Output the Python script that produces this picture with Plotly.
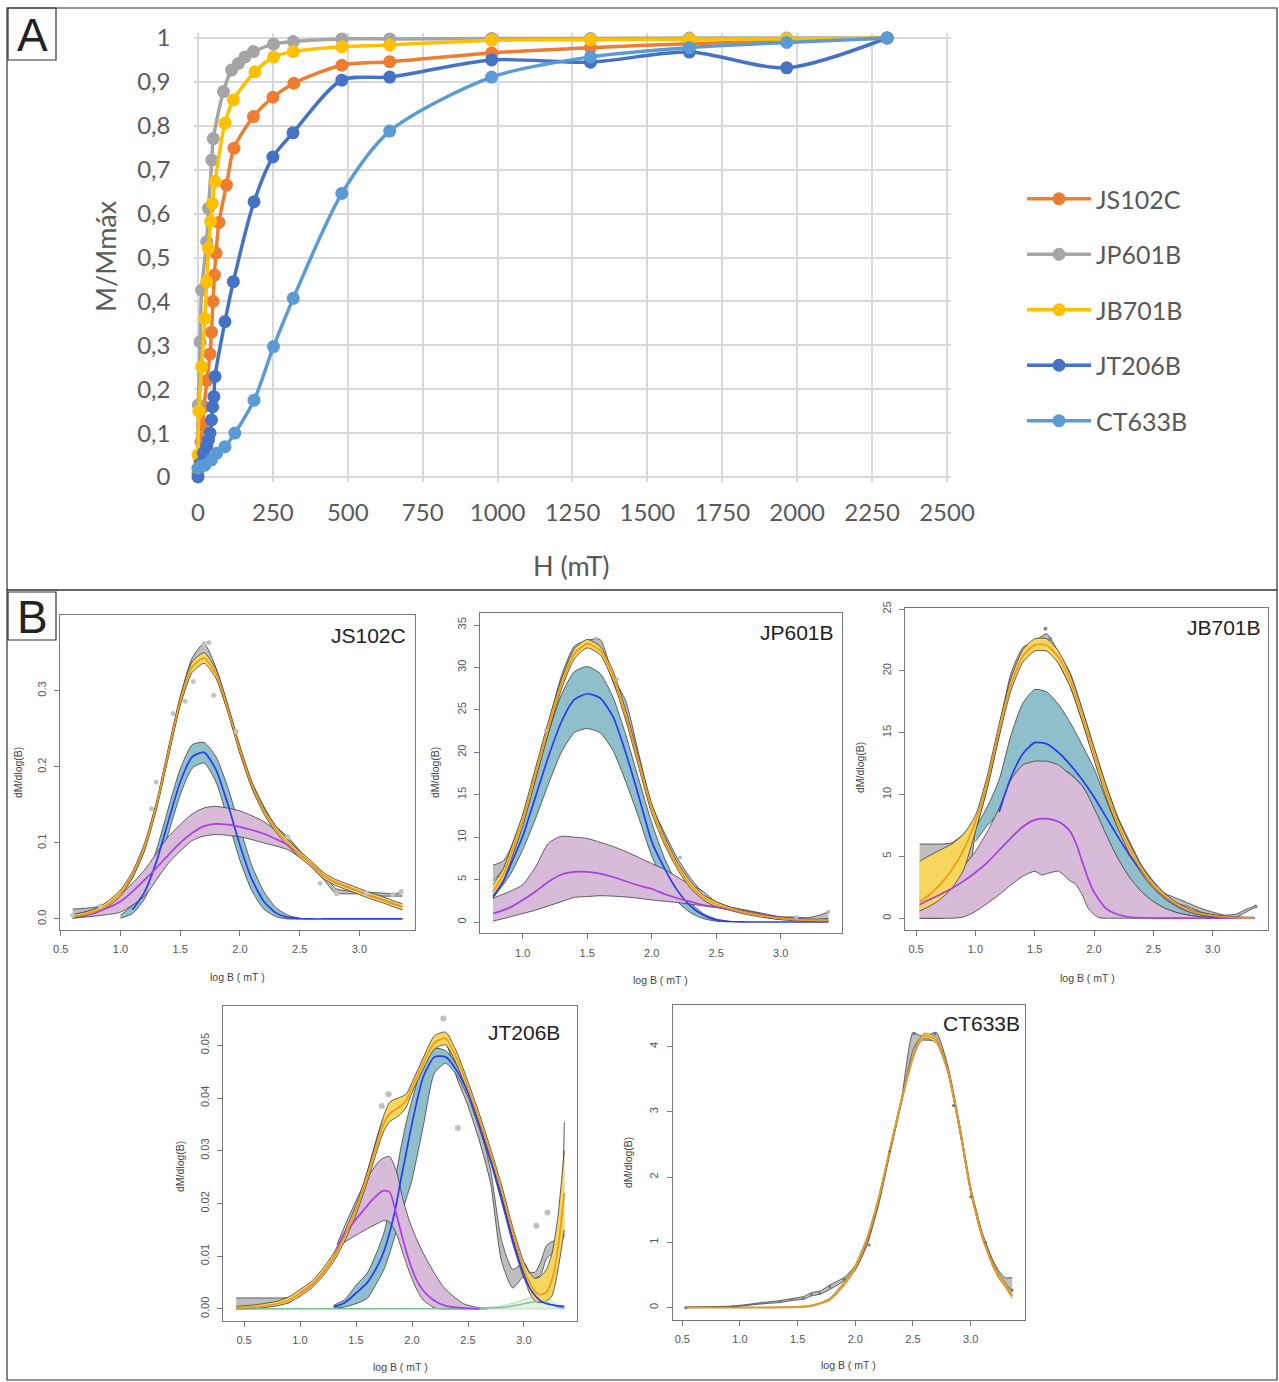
import plotly.graph_objects as go

W, H = 1279, 1382

# ---------------- Panel A data (H in mT, M/Mmax) ----------------
a_names = ["JS102C", "JP601B", "JB701B", "JT206B", "CT633B"]
a_colors = ["#ED7D31", "#A5A5A5", "#FFC000", "#4472C4", "#5B9BD5"]

js102c_h = [0, 5, 10, 15, 20, 30, 40, 45, 50, 55, 60, 70, 95, 120, 185, 250, 320, 480, 640, 980, 1310, 1640, 1965, 2300]
js102c_m = [0.01, 0.04, 0.08, 0.12, 0.16, 0.22, 0.28, 0.33, 0.40, 0.46, 0.51, 0.58, 0.665, 0.749, 0.821, 0.865, 0.897, 0.938, 0.946, 0.966, 0.978, 0.987, 0.993, 1.0]

jp601b_h = [0, 1, 7, 12, 29, 35, 46, 51, 85, 112, 135, 157, 185, 252, 318, 480, 640, 980, 1310, 1640, 1965, 2300]
jp601b_m = [0.02, 0.164, 0.308, 0.426, 0.536, 0.612, 0.722, 0.771, 0.878, 0.927, 0.942, 0.957, 0.969, 0.986, 0.992, 0.998, 0.998, 0.999, 0.999, 1.0, 1.0, 1.0]

jb701b_h = [0, 3, 12, 23, 29, 35, 42, 48, 57, 90, 118, 190, 252, 318, 480, 640, 980, 1310, 1640, 1965, 2300]
jb701b_m = [0.05, 0.15, 0.251, 0.361, 0.445, 0.521, 0.582, 0.623, 0.673, 0.806, 0.859, 0.923, 0.957, 0.969, 0.98, 0.984, 0.995, 0.996, 0.997, 0.998, 1.0]

jt206b_h = [0, 8, 18, 29, 35, 40, 45, 49, 53, 57, 90, 118, 187, 250, 317, 480, 640, 980, 1310, 1640, 1965, 2300]
jt206b_m = [0.0, 0.03, 0.054, 0.07, 0.085, 0.1, 0.13, 0.16, 0.183, 0.229, 0.354, 0.445, 0.627, 0.729, 0.784, 0.904, 0.911, 0.95, 0.945, 0.968, 0.932, 1.0]

ct633b_h = [0, 10, 23, 45, 62, 90, 123, 187, 252, 318, 480, 640, 980, 1310, 1640, 1965, 2300]
ct633b_m = [0.02, 0.025, 0.027, 0.039, 0.054, 0.069, 0.1, 0.175, 0.297, 0.407, 0.646, 0.788, 0.911, 0.957, 0.978, 0.99, 1.0]

a_h = [js102c_h, jp601b_h, jb701b_h, jt206b_h, ct633b_h]
a_m = [js102c_m, jp601b_m, jb701b_m, jt206b_m, ct633b_m]

a_xticks = [0, 250, 500, 750, 1000, 1250, 1500, 1750, 2000, 2250, 2500]
a_yticks = [0, 0.1, 0.2, 0.3, 0.4, 0.5, 0.6, 0.7, 0.8, 0.9, 1.0]
a_ytext = ["0", "0,1", "0,2", "0,3", "0,4", "0,5", "0,6", "0,7", "0,8", "0,9", "1"]

# ---------------- Panel B data (log B vs dM/dlog(B)) ----------------
# JS102C
s1_x = [0.6, 0.7, 0.8, 0.9, 1.0, 1.1, 1.2, 1.3, 1.4, 1.5, 1.6, 1.7, 1.8, 1.9, 2.0, 2.1, 2.2, 2.3, 2.4, 2.5, 2.6, 2.7, 2.8, 2.9, 3.0, 3.1, 3.2, 3.3, 3.36]
s1_tot = [0.003, 0.006, 0.011, 0.02, 0.034, 0.058, 0.094, 0.148, 0.218, 0.286, 0.331, 0.343, 0.322, 0.276, 0.222, 0.176, 0.142, 0.118, 0.1, 0.085, 0.072, 0.057, 0.048, 0.042, 0.036, 0.03, 0.025, 0.019, 0.016]
s1_tot_hi = [0.006, 0.009, 0.014, 0.024, 0.038, 0.062, 0.099, 0.153, 0.224, 0.292, 0.338, 0.35, 0.328, 0.281, 0.227, 0.18, 0.146, 0.122, 0.104, 0.089, 0.076, 0.061, 0.052, 0.046, 0.04, 0.034, 0.029, 0.023, 0.02]
s1_tot_lo = [0.001, 0.004, 0.008, 0.017, 0.03, 0.054, 0.089, 0.143, 0.212, 0.28, 0.324, 0.336, 0.316, 0.271, 0.217, 0.172, 0.138, 0.114, 0.096, 0.081, 0.068, 0.053, 0.044, 0.038, 0.032, 0.026, 0.021, 0.015, 0.012]
s1_dat_hi = [0.013, 0.014, 0.016, 0.022, 0.036, 0.06, 0.096, 0.152, 0.222, 0.292, 0.343, 0.362, 0.33, 0.28, 0.226, 0.18, 0.148, 0.122, 0.108, 0.09, 0.074, 0.06, 0.04, 0.037, 0.037, 0.035, 0.034, 0.033, 0.036]
s1_dat_lo = [0.003, 0.007, 0.011, 0.018, 0.031, 0.054, 0.09, 0.145, 0.214, 0.282, 0.328, 0.345, 0.318, 0.272, 0.218, 0.172, 0.14, 0.115, 0.1, 0.084, 0.068, 0.052, 0.034, 0.033, 0.033, 0.031, 0.03, 0.03, 0.03]
s1_c1_x = [1.1, 1.2, 1.3, 1.4, 1.5, 1.6, 1.7, 1.8, 1.9, 2.0, 2.1, 2.2, 2.3, 2.4, 2.5, 2.6, 2.7, 2.8, 2.9, 3.0, 3.1, 3.2, 3.3, 3.36]
s1_c1 = [0.012, 0.035, 0.075, 0.128, 0.18, 0.213, 0.219, 0.196, 0.15, 0.097, 0.052, 0.023, 0.008, 0.002, 0.0005, 0, 0, 0, 0, 0, 0, 0, 0, 0]
s1_c1b_x = [1.0, 1.1, 1.2, 1.3, 1.4, 1.5, 1.6, 1.7, 1.8, 1.9, 2.0, 2.1, 2.2, 2.3, 2.4, 2.5]
s1_c1_hi = [0.005, 0.018, 0.045, 0.09, 0.145, 0.197, 0.229, 0.232, 0.213, 0.172, 0.12, 0.07, 0.036, 0.015, 0.005, 0.001]
s1_c1_lo = [0.001, 0.007, 0.026, 0.061, 0.112, 0.163, 0.198, 0.205, 0.18, 0.13, 0.077, 0.037, 0.013, 0.003, 0.0, 0.0]
s1_c2 = [0.003, 0.005, 0.009, 0.015, 0.023, 0.036, 0.051, 0.067, 0.084, 0.1, 0.113, 0.122, 0.125, 0.124, 0.121, 0.117, 0.112, 0.105, 0.097, 0.085, 0.072, 0.057, 0.048, 0.042, 0.036, 0.03, 0.025, 0.019, 0.016]
s1_c2b_x = [0.6, 0.8, 1.0, 1.2, 1.4, 1.6, 1.7, 1.8, 2.0, 2.2, 2.4, 2.6]
s1_c2_hi = [0.005, 0.014, 0.032, 0.064, 0.108, 0.138, 0.146, 0.148, 0.142, 0.128, 0.104, 0.074]
s1_c2_lo = [0.001, 0.004, 0.009, 0.03, 0.073, 0.103, 0.109, 0.111, 0.108, 0.1, 0.091, 0.07]
s1_pts_x = [0.60, 0.83, 1.26, 1.30, 1.44, 1.54, 1.61, 1.70, 1.74, 1.78, 1.97, 2.40, 2.67, 2.81, 3.06, 3.28, 3.35]
s1_pts_y = [0.005, 0.017, 0.145, 0.18, 0.27, 0.286, 0.312, 0.362, 0.363, 0.294, 0.246, 0.108, 0.047, 0.033, 0.034, 0.032, 0.036]

# JP601B
s2_x = [0.77, 0.85, 0.9, 1.0, 1.1, 1.2, 1.3, 1.4, 1.5, 1.6, 1.7, 1.8, 1.9, 2.0, 2.1, 2.2, 2.3, 2.4, 2.5, 2.6, 2.7, 2.8, 2.9, 3.0, 3.1, 3.2, 3.3, 3.37]
s2_tot = [3.6, 5.6, 7.6, 12.0, 17.5, 23.0, 28.0, 31.6, 32.8, 32.0, 29.0, 24.3, 18.8, 13.4, 9.6, 6.6, 4.4, 2.9, 2.1, 1.6, 1.2, 0.9, 0.63, 0.43, 0.3, 0.22, 0.2, 0.2]
s2_tot_hi = [4.4, 6.3, 8.3, 12.7, 18.2, 23.7, 28.6, 32.2, 33.3, 32.5, 29.6, 24.9, 19.4, 14.0, 10.1, 7.0, 4.8, 3.2, 2.4, 1.8, 1.4, 1.1, 0.8, 0.6, 0.45, 0.37, 0.35, 0.35]
s2_tot_lo = [2.9, 4.9, 6.9, 11.3, 16.8, 22.3, 27.4, 31.0, 32.3, 31.5, 28.4, 23.7, 18.2, 12.8, 9.1, 6.2, 4.0, 2.6, 1.8, 1.4, 1.0, 0.7, 0.46, 0.28, 0.15, 0.08, 0.05, 0.05]
s2_dat_hi = [6.7, 7.2, 8.5, 12.5, 18.0, 23.5, 29.0, 32.5, 33.2, 33.3, 29.0, 26.0, 19.8, 13.8, 10.5, 7.5, 5.2, 3.4, 2.4, 1.8, 1.5, 1.2, 0.9, 0.6, 0.6, 0.5, 0.8, 1.2]
s2_dat_lo = [4.8, 6.2, 7.8, 11.5, 17.2, 22.5, 27.8, 31.6, 32.6, 32.2, 28.3, 24.5, 18.8, 13.0, 9.5, 6.8, 4.6, 3.0, 2.1, 1.5, 1.2, 0.9, 0.5, 0.3, 0.25, 0.2, 0.3, 0.4]
s2_c1 = [3.0, 4.8, 6.5, 10.1, 14.8, 19.5, 23.6, 26.2, 26.9, 26.4, 24.2, 19.9, 14.8, 9.5, 6.3, 3.7, 1.9, 0.8, 0.25, 0.06, 0.01, 0, 0, 0, 0, 0, 0, 0]
s2_c1b_x = [0.77, 0.9, 1.0, 1.1, 1.2, 1.3, 1.4, 1.5, 1.6, 1.7, 1.8, 1.9, 2.0, 2.1, 2.2, 2.3, 2.4, 2.5, 2.6]
s2_c1_hi = [3.4, 7.5, 11.8, 17.0, 22.3, 26.8, 29.5, 30.1, 29.3, 26.5, 22.0, 16.8, 11.7, 7.5, 4.4, 2.3, 1.0, 0.35, 0.08]
s2_c1_lo = [2.8, 5.5, 8.5, 12.2, 16.3, 20.0, 22.3, 22.8, 22.3, 20.2, 16.5, 12.3, 7.8, 4.6, 2.4, 1.1, 0.4, 0.1, 0.02]
s2_c2 = [1.0, 1.4, 1.7, 2.6, 3.6, 4.75, 5.6, 5.9, 5.9, 5.7, 5.3, 4.8, 4.3, 3.9, 3.3, 2.8, 2.4, 2.0, 1.8, 1.5, 1.2, 0.95, 0.7, 0.5, 0.36, 0.26, 0.2, 0.17]
s2_c2b_x = [0.77, 0.9, 1.0, 1.1, 1.2, 1.3, 1.4, 1.5, 1.6, 1.7, 1.8, 1.9, 2.0, 2.1, 2.2, 2.3, 2.4, 2.5, 2.6]
s2_c2_hi = [2.8, 3.6, 4.4, 6.5, 9.3, 10.1, 10.0, 9.85, 9.4, 8.9, 8.3, 7.6, 6.9, 6.2, 5.3, 4.4, 3.6, 2.3, 1.6]
s2_c2_lo = [0.1, 0.6, 1.0, 1.4, 1.9, 2.4, 2.9, 3.0, 3.1, 3.05, 2.95, 2.8, 2.6, 2.45, 2.3, 2.1, 1.9, 1.7, 1.45]
s2_pts_x = [1.18, 1.57, 1.73, 2.22, 3.12, 3.37]
s2_pts_y = [22.6, 33.4, 28.6, 7.6, 0.55, 1.2]

# JB701B
s3_x = [0.53, 0.6, 0.7, 0.8, 0.9, 1.0, 1.1, 1.2, 1.3, 1.4, 1.5, 1.6, 1.7, 1.8, 1.9, 2.0, 2.1, 2.2, 2.3, 2.4, 2.5, 2.6, 2.7, 2.8, 2.9, 3.0, 3.1, 3.2, 3.3, 3.35]
s3_tot = [1.35, 1.8, 2.7, 3.9, 5.5, 7.8, 11.0, 15.2, 18.9, 21.2, 22.1, 22.1, 21.1, 19.2, 16.4, 13.3, 10.3, 7.7, 5.6, 3.9, 2.65, 1.75, 1.08, 0.62, 0.35, 0.2, 0.1, 0.05, 0.03, 0.02]
s3_tot_hi = [4.6, 5.0, 5.5, 6.0, 6.8, 8.3, 11.5, 15.7, 19.4, 21.7, 22.6, 22.6, 21.6, 19.7, 16.9, 13.8, 10.8, 8.1, 6.0, 4.2, 2.9, 1.95, 1.25, 0.77, 0.47, 0.3, 0.18, 0.12, 0.09, 0.08]
s3_tot_lo = [0.6, 0.9, 1.5, 2.4, 3.9, 7.0, 10.5, 14.7, 18.4, 20.7, 21.6, 21.6, 20.6, 18.7, 15.9, 12.8, 9.8, 7.3, 5.2, 3.6, 2.4, 1.55, 0.92, 0.5, 0.25, 0.12, 0.05, 0.02, 0.01, 0.0]
s3_dat_hi = [6.0, 6.0, 6.0, 6.1, 6.8, 8.1, 11.3, 15.5, 19.8, 21.9, 22.4, 23.0, 21.5, 19.8, 16.9, 13.8, 10.8, 8.2, 6.2, 4.3, 3.0, 2.0, 1.6, 1.2, 0.8, 0.5, 0.25, 0.35, 0.8, 0.95]
s3_dat_lo = [0.0, 0.0, 0.0, 0.2, 1.0, 6.8, 10.5, 14.7, 19.0, 21.2, 21.7, 22.0, 20.6, 18.7, 15.9, 12.9, 9.9, 7.4, 5.5, 3.7, 2.5, 1.6, 1.2, 0.9, 0.5, 0.25, 0.05, 0.1, 0.6, 0.85]
s3_c1_x = [1.2, 1.3, 1.4, 1.5, 1.6, 1.7, 1.8, 1.9, 2.0, 2.1, 2.2, 2.3, 2.4, 2.5, 2.6, 2.7, 2.8, 2.9, 3.0, 3.1, 3.2, 3.3, 3.35]
s3_c1 = [8.6, 11.4, 13.3, 14.2, 14.1, 13.4, 12.4, 11.2, 9.8, 8.2, 6.6, 5.1, 3.8, 2.6, 1.7, 1.05, 0.6, 0.33, 0.18, 0.1, 0.05, 0.03, 0.02]
s3_c1b_x = [1.0, 1.1, 1.2, 1.3, 1.4, 1.5, 1.6, 1.7, 1.8, 1.9, 2.0, 2.1, 2.2, 2.3, 2.4, 2.5, 2.6, 2.7, 2.8, 2.9, 3.0, 3.1, 3.2, 3.35]
s3_c1_hi = [7.3, 9.0, 11.2, 14.8, 17.4, 18.5, 18.3, 17.3, 15.8, 14.0, 12.1, 9.6, 7.3, 5.4, 3.8, 2.6, 1.75, 1.1, 0.67, 0.38, 0.2, 0.1, 0.05, 0.02]
s3_c1_lo = [6.2, 7.5, 8.5, 10.5, 12.0, 12.5, 12.4, 12.2, 11.7, 10.7, 8.7, 6.6, 4.8, 3.2, 2.1, 1.3, 0.78, 0.44, 0.24, 0.12, 0.05, 0.02, 0.01, 0.0]
s3_c2_x = [0.53, 0.6, 0.7, 0.8, 0.9, 1.0, 1.1, 1.2, 1.3, 1.4, 1.5, 1.6, 1.7, 1.75, 1.8, 1.85, 1.9, 1.95, 2.0, 2.1, 2.2, 2.3, 2.4, 2.6, 2.8, 3.0, 3.35]
s3_c2 = [1.1, 1.45, 1.9, 2.4, 3.0, 3.7, 4.5, 5.5, 6.5, 7.4, 7.95, 8.05, 7.8, 7.5, 7.0, 6.0, 4.6, 3.2, 2.1, 0.8, 0.3, 0.1, 0.04, 0.01, 0, 0, 0]
s3_c2b_x = [0.53, 0.7, 0.8, 0.9, 1.0, 1.1, 1.2, 1.3, 1.4, 1.5, 1.56, 1.6, 1.7, 1.8, 1.84, 1.9, 1.95, 2.0, 2.04, 2.1, 2.2, 2.3, 2.4, 2.5, 2.6, 2.7, 2.8, 2.9, 3.0, 3.35]
s3_c2_hi = [1.6, 2.5, 3.2, 4.2, 5.4, 7.0, 8.9, 11.2, 12.4, 12.7, 12.7, 12.7, 12.4, 11.6, 11.3, 10.7, 9.9, 8.9, 8.1, 6.8, 4.85, 3.3, 2.15, 1.35, 0.8, 0.45, 0.25, 0.12, 0.05, 0.01]
s3_c2_lo = [0, 0, 0, 0.1, 0.55, 1.2, 1.9, 2.7, 3.4, 3.8, 3.5, 3.6, 3.8, 3.0, 2.8, 1.9, 0.8, 0.3, 0.05, 0, 0, 0, 0, 0, 0, 0, 0, 0, 0, 0]
s3_pts_x = [1.59, 1.63, 3.36]
s3_pts_y = [23.4, 22.6, 0.95]

# JT206B
s4_x = [0.43, 0.6, 0.8, 0.9, 1.0, 1.1, 1.2, 1.3, 1.4, 1.5, 1.6, 1.7, 1.75, 1.8, 1.85, 1.9, 1.95, 2.0, 2.1, 2.2, 2.3, 2.4, 2.5, 2.6, 2.7, 2.8, 2.9, 3.0, 3.05, 3.1, 3.15, 3.2, 3.25, 3.3, 3.36]
s4_tot = [0.0002, 0.0004, 0.001, 0.0017, 0.003, 0.0045, 0.0068, 0.0098, 0.0138, 0.0188, 0.025, 0.032, 0.0352, 0.037, 0.0378, 0.0385, 0.0396, 0.042, 0.0465, 0.0505, 0.0513, 0.0475, 0.042, 0.036, 0.0295, 0.0225, 0.0145, 0.0075, 0.005, 0.0033, 0.0027, 0.0032, 0.0055, 0.011, 0.022]
s4_tot_hi = [0.0005, 0.0008, 0.0015, 0.0023, 0.0037, 0.0052, 0.0076, 0.0106, 0.0147, 0.0197, 0.026, 0.0332, 0.0368, 0.0392, 0.0398, 0.0402, 0.0408, 0.043, 0.0476, 0.0518, 0.0525, 0.0487, 0.0431, 0.0371, 0.0305, 0.0235, 0.0155, 0.0088, 0.0068, 0.0058, 0.0062, 0.0075, 0.0105, 0.017, 0.03]
s4_tot_lo = [0.0, 0.0001, 0.0006, 0.0012, 0.0024, 0.0039, 0.0061, 0.009, 0.0129, 0.0179, 0.024, 0.0308, 0.0338, 0.0355, 0.0362, 0.037, 0.0383, 0.041, 0.0455, 0.0493, 0.0501, 0.0463, 0.041, 0.035, 0.0285, 0.0215, 0.0135, 0.0062, 0.003, 0.0015, 0.0012, 0.0015, 0.0025, 0.007, 0.015]
s4_dat_hi = [0.0021, 0.0021, 0.0021, 0.0022, 0.0032, 0.0047, 0.0069, 0.0099, 0.014, 0.019, 0.026, 0.0335, 0.0365, 0.038, 0.0385, 0.0395, 0.0405, 0.0425, 0.0475, 0.0515, 0.0518, 0.0458, 0.041, 0.035, 0.0265, 0.013, 0.0075, 0.0088, 0.007, 0.007, 0.009, 0.012, 0.0128, 0.013, 0.0355]
s4_dat_lo = [0.0002, 0.0003, 0.0008, 0.0012, 0.0028, 0.0043, 0.0064, 0.0094, 0.0133, 0.0182, 0.0248, 0.032, 0.0345, 0.0362, 0.0368, 0.038, 0.039, 0.0413, 0.0463, 0.0503, 0.0503, 0.0438, 0.0385, 0.032, 0.024, 0.009, 0.004, 0.0062, 0.0058, 0.0058, 0.0065, 0.0095, 0.0105, 0.0115, 0.014]
s4_c1_x = [1.3, 1.4, 1.5, 1.6, 1.7, 1.75, 1.8, 1.85, 1.9, 1.95, 2.0, 2.1, 2.2, 2.3, 2.4, 2.5, 2.6, 2.7, 2.8, 2.9, 3.0, 3.05, 3.1, 3.15, 3.2, 3.25, 3.3, 3.36]
s4_c1 = [0.0004, 0.0012, 0.003, 0.005, 0.0085, 0.011, 0.0145, 0.0188, 0.0245, 0.0298, 0.0352, 0.044, 0.0478, 0.0478, 0.0452, 0.041, 0.035, 0.0285, 0.021, 0.013, 0.0065, 0.004, 0.0025, 0.0015, 0.001, 0.0008, 0.0006, 0.0005]
s4_c1b_x = [1.3, 1.4, 1.5, 1.6, 1.7, 1.75, 1.8, 1.85, 1.9, 1.95, 2.0, 2.1, 2.2, 2.3, 2.4, 2.5, 2.6, 2.7, 2.8, 2.9, 3.0, 3.1, 3.2]
s4_c1_hi = [0.0007, 0.0018, 0.0045, 0.0068, 0.0115, 0.0145, 0.019, 0.0245, 0.0305, 0.0355, 0.0396, 0.0466, 0.0494, 0.049, 0.0462, 0.0418, 0.0358, 0.0292, 0.0217, 0.0137, 0.0072, 0.003, 0.0012]
s4_c1_lo = [0.0001, 0.0004, 0.001, 0.002, 0.0055, 0.0075, 0.0105, 0.014, 0.0175, 0.021, 0.0245, 0.0346, 0.0447, 0.0466, 0.0443, 0.0402, 0.0342, 0.0278, 0.0203, 0.0123, 0.0058, 0.002, 0.0005]
s4_c2_x = [1.0, 1.1, 1.2, 1.3, 1.39, 1.5, 1.57, 1.65, 1.74, 1.8, 1.86, 1.92, 1.98, 2.04, 2.1, 2.19, 2.3, 2.45, 2.6]
s4_c2 = [0.003, 0.0045, 0.0068, 0.0098, 0.014, 0.017, 0.0188, 0.0208, 0.0224, 0.0222, 0.018, 0.0131, 0.0088, 0.0055, 0.0035, 0.0017, 0.0006, 0.0002, 0.0]
s4_c2b_x = [1.33, 1.4, 1.5, 1.6, 1.7, 1.75, 1.8, 1.86, 1.92, 1.98, 2.04, 2.1, 2.2, 2.28, 2.37, 2.46, 2.56, 2.67]
s4_c2_hi = [0.0122, 0.0158, 0.0205, 0.0248, 0.0279, 0.0287, 0.0289, 0.0262, 0.0207, 0.0165, 0.0133, 0.0106, 0.0068, 0.0042, 0.0024, 0.001, 0.0004, 0.0001]
s4_c2_lo = [0.0118, 0.0127, 0.014, 0.0152, 0.0163, 0.0168, 0.0165, 0.0143, 0.0105, 0.0068, 0.0038, 0.0017, 0.0002, 0.0, 0.0, 0.0, 0.0, 0.0]
s4_c3_x = [0.43, 2.6, 2.8, 2.9, 3.0, 3.1, 3.15, 3.2, 3.25, 3.3, 3.36]
s4_c3 = [0.0, 0.0001, 0.0003, 0.0006, 0.001, 0.0014, 0.0015, 0.0013, 0.0008, 0.0004, 0.0001]
s4_c3_hi = [0.0, 0.0002, 0.0006, 0.0011, 0.0018, 0.0025, 0.0027, 0.0024, 0.0015, 0.0008, 0.0002]
s4_c3_lo = [0.0, 0.0, 0.0, 0.0, 0.0, 0.0, 0.0, 0.0, 0.0, 0.0, 0.0]
s4_pts_x = [1.73, 1.79, 2.28, 2.41, 3.11, 3.21]
s4_pts_y = [0.0385, 0.0407, 0.0551, 0.0343, 0.0158, 0.0183]

# CT633B
s5_x = [0.53, 0.94, 1.2, 1.35, 1.45, 1.55, 1.62, 1.7, 1.78, 1.9, 2.0, 2.1, 2.2, 2.3, 2.4, 2.5, 2.55, 2.6, 2.7, 2.8, 2.9, 3.0, 3.1, 3.2, 3.25, 3.3, 3.36]
s5_tot = [0.0, 0.0, 0.0, 0.003, 0.006, 0.015, 0.03, 0.07, 0.13, 0.36, 0.62, 1.04, 1.65, 2.42, 3.18, 3.85, 4.07, 4.17, 4.1, 3.65, 2.8, 1.8, 1.1, 0.63, 0.47, 0.35, 0.18]
s5_tot_hi = [0.01, 0.01, 0.01, 0.013, 0.016, 0.025, 0.04, 0.08, 0.15, 0.39, 0.66, 1.08, 1.69, 2.46, 3.22, 3.89, 4.11, 4.21, 4.14, 3.69, 2.84, 1.84, 1.14, 0.67, 0.51, 0.39, 0.22]
s5_tot_lo = [0.0, 0.0, 0.0, 0.0, 0.0, 0.006, 0.02, 0.06, 0.11, 0.33, 0.58, 1.0, 1.61, 2.38, 3.14, 3.81, 4.03, 4.13, 4.06, 3.61, 2.76, 1.76, 1.06, 0.59, 0.43, 0.31, 0.14]
s5_dat_hi = [0.01, 0.025, 0.08, 0.11, 0.14, 0.17, 0.23, 0.26, 0.35, 0.46, 0.64, 1.0, 1.62, 2.42, 3.2, 4.22, 4.18, 4.15, 4.22, 3.72, 2.85, 1.85, 1.15, 0.7, 0.55, 0.46, 0.46]
s5_dat_lo = [0.0, 0.015, 0.06, 0.08, 0.11, 0.13, 0.18, 0.21, 0.28, 0.41, 0.58, 0.95, 1.56, 2.36, 3.14, 3.95, 4.1, 4.1, 4.08, 3.62, 2.75, 1.77, 1.08, 0.62, 0.45, 0.35, 0.27]
s5_pts_x = [0.53, 0.94, 1.19, 1.35, 1.45, 1.55, 1.62, 1.69, 1.78, 1.9, 2.12, 2.3, 2.51, 2.69, 2.85, 3.0, 3.13, 3.36]
s5_pts_y = [0.0, 0.02, 0.07, 0.09, 0.12, 0.14, 0.2, 0.22, 0.32, 0.44, 0.96, 2.4, 4.2, 4.2, 3.1, 1.7, 1.0, 0.27]

# tick labels of panel B
b_xt_a = [0.5, 1.0, 1.5, 2.0, 2.5, 3.0]
b_xt_a_txt = ["0.5", "1.0", "1.5", "2.0", "2.5", "3.0"]
b_xt_b = [1.0, 1.5, 2.0, 2.5, 3.0]
b_xt_b_txt = ["1.0", "1.5", "2.0", "2.5", "3.0"]
s1_yt = [0.0, 0.1, 0.2, 0.3]
s1_yt_txt = ["0.0", "0.1", "0.2", "0.3"]
s2_yt = [0, 5, 10, 15, 20, 25, 30, 35]
s3_yt = [0, 5, 10, 15, 20, 25]
s4_yt = [0.0, 0.01, 0.02, 0.03, 0.04, 0.05]
s4_yt_txt = ["0.00", "0.01", "0.02", "0.03", "0.04", "0.05"]
s5_yt = [0, 1, 2, 3, 4]

# ---------------- helpers ----------------
def xd(l, r):
    return [l / W, r / W]

def yd(t, b):
    return [1 - b / H, 1 - t / H]

fig = go.Figure()

# Panel A traces
for nm, col, hh, mm in zip(a_names, a_colors, a_h, a_m):
    fig.add_trace(go.Scatter(
        x=hh, y=mm, name=nm, mode="lines+markers",
        line=dict(color=col, width=3.5, shape="spline", smoothing=0.8),
        marker=dict(color=col, size=13),
        cliponaxis=False, xaxis="x", yaxis="y", legendgroup=nm))

# Panel B helpers
C_DATA = "#BEBEBE"
C_TEAL = "#8FBFCB"
C_PINK = "#D7BBD8"
C_GREEN = "#E2F1E2"
C_YEL = "#F6D65C"
C_EDGE = "#3C3C3C"

def band(xs, lo, hi, fill, xa, ya, edge=C_EDGE, lw=0.8):
    fig.add_trace(go.Scatter(x=xs, y=lo, mode="lines", xaxis=xa, yaxis=ya,
                             line=dict(color=edge, width=lw, shape="spline", smoothing=0.6),
                             showlegend=False, hoverinfo="skip"))
    fig.add_trace(go.Scatter(x=xs, y=hi, mode="lines", xaxis=xa, yaxis=ya, fill="tonexty",
                             fillcolor=fill,
                             line=dict(color=edge, width=lw, shape="spline", smoothing=0.6),
                             showlegend=False, hoverinfo="skip"))

def curve(xs, ys, col, xa, ya, lw=1.7):
    fig.add_trace(go.Scatter(x=xs, y=ys, mode="lines", xaxis=xa, yaxis=ya,
                             line=dict(color=col, width=lw, shape="spline", smoothing=0.6),
                             showlegend=False, hoverinfo="skip"))

def pts(xs, ys, col, size, xa, ya):
    fig.add_trace(go.Scatter(x=xs, y=ys, mode="markers", xaxis=xa, yaxis=ya,
                             marker=dict(color=col, size=size), cliponaxis=False,
                             showlegend=False, hoverinfo="skip"))

BLUE = "#2A3BF0"
MAG = "#A83FE6"
ORG = "#EE9A1C"
GRN = "#72C08E"

# S1 JS102C
band(s1_x, s1_dat_lo, s1_dat_hi, C_DATA, "x2", "y2")
band(s1_c1b_x, s1_c1_lo, s1_c1_hi, C_TEAL, "x2", "y2")
band(s1_c2b_x, s1_c2_lo, s1_c2_hi, C_PINK, "x2", "y2")
band(s1_x, s1_tot_lo, s1_tot_hi, C_YEL, "x2", "y2")
curve(s1_c1_x, s1_c1, BLUE, "x2", "y2")
curve(s1_x, s1_c2, MAG, "x2", "y2")
curve(s1_x, s1_tot, ORG, "x2", "y2")
pts(s1_pts_x, s1_pts_y, "#C4C4C4", 5, "x2", "y2")

# S2 JP601B
band(s2_x, s2_dat_lo, s2_dat_hi, C_DATA, "x3", "y3")
band(s2_c1b_x, s2_c1_lo, s2_c1_hi, C_TEAL, "x3", "y3")
band(s2_c2b_x, s2_c2_lo, s2_c2_hi, C_PINK, "x3", "y3")
band(s2_x, s2_tot_lo, s2_tot_hi, C_YEL, "x3", "y3")
curve(s2_x, s2_c1, BLUE, "x3", "y3")
curve(s2_x, s2_c2, MAG, "x3", "y3")
curve(s2_x, s2_tot, ORG, "x3", "y3")
pts(s2_pts_x, s2_pts_y, "#B8B8B8", 4, "x3", "y3")

# S3 JB701B
band(s3_x, s3_dat_lo, s3_dat_hi, C_DATA, "x4", "y4")
band(s3_c1b_x, s3_c1_lo, s3_c1_hi, C_TEAL, "x4", "y4")
band(s3_c2b_x, s3_c2_lo, s3_c2_hi, C_PINK, "x4", "y4")
band(s3_x, s3_tot_lo, s3_tot_hi, C_YEL, "x4", "y4")
curve(s3_c1_x, s3_c1, BLUE, "x4", "y4")
curve(s3_c2_x, s3_c2, MAG, "x4", "y4")
curve(s3_x, s3_tot, ORG, "x4", "y4")
pts(s3_pts_x, s3_pts_y, "#888888", 4, "x4", "y4")

# S4 JT206B
band(s4_x, s4_dat_lo, s4_dat_hi, C_DATA, "x5", "y5")
band(s4_c1b_x, s4_c1_lo, s4_c1_hi, C_TEAL, "x5", "y5")
band(s4_c2b_x, s4_c2_lo, s4_c2_hi, C_PINK, "x5", "y5")
band(s4_c3_x, s4_c3_lo, s4_c3_hi, C_GREEN, "x5", "y5", edge="#9CCB9C", lw=0.6)
band(s4_x, s4_tot_lo, s4_tot_hi, C_YEL, "x5", "y5")
curve(s4_c3_x, s4_c3, GRN, "x5", "y5", lw=1.2)
curve(s4_c1_x, s4_c1, BLUE, "x5", "y5")
curve(s4_c2_x, s4_c2, MAG, "x5", "y5")
curve(s4_x, s4_tot, ORG, "x5", "y5")
pts(s4_pts_x, s4_pts_y, "#C0C0C0", 6, "x5", "y5")

# S5 CT633B
band(s5_x, s5_dat_lo, s5_dat_hi, C_DATA, "x6", "y6")
band(s5_x, s5_tot_lo, s5_tot_hi, C_YEL, "x6", "y6", lw=0.5)
curve(s5_x, s5_tot, ORG, "x6", "y6", lw=1.8)
pts(s5_pts_x, s5_pts_y, "#777777", 3, "x6", "y6")

# ---------------- layout ----------------
FA = "Lato"
FB = "Liberation Sans"
GA = "#595959"

layout = dict(
    width=W, height=H, autosize=False,
    margin=dict(l=0, r=0, t=0, b=0, pad=0, autoexpand=False),
    paper_bgcolor="white", plot_bgcolor="rgba(0,0,0,0)",
    showlegend=True,
    legend=dict(x=1022 / W, y=1 - 176 / H, xanchor="left", yanchor="top",
                font=dict(family=FA, size=25, color=GA), bgcolor="rgba(0,0,0,0)",
                tracegroupgap=20, itemwidth=64),
    xaxis=dict(domain=xd(198 - 4.494, 947 + 4.494), range=[-15, 2515], anchor="y",
               tickvals=a_xticks, showgrid=True, gridcolor="#D9D9D9", gridwidth=1.5,
               zeroline=False, showline=False, ticks="", automargin=False,
               tickfont=dict(family=FA, size=24, color=GA), ticklabelstandoff=14),
    yaxis=dict(domain=yd(38 - 5.268, 477 + 5.268), range=[-0.012, 1.012], anchor="x",
               tickvals=a_yticks, ticktext=a_ytext, showgrid=True, gridcolor="#D9D9D9",
               gridwidth=1.5, zeroline=False, showline=False, ticks="", automargin=False,
               tickfont=dict(family=FA, size=24, color=GA), ticklabelstandoff=22),
)

def baxes(n, xdom, ydom, xr, yr, xtv, xtt, ytv, ytt):
    ax = dict(domain=xdom, range=xr, anchor="y%d" % n, tickvals=xtv, ticktext=xtt,
              showgrid=False, zeroline=False, showline=True, mirror=True, linecolor="#777777",
              linewidth=1, ticks="outside", ticklen=5, tickcolor="#777777", automargin=False,
              tickfont=dict(family=FB, size=11, color="#555555"), ticklabelstandoff=4)
    ay = dict(domain=ydom, range=yr, anchor="x%d" % n, tickvals=ytv, ticktext=ytt,
              showgrid=False, zeroline=False, showline=True, mirror=True, linecolor="#777777",
              linewidth=1, ticks="outside", ticklen=5, tickcolor="#777777", tickangle=-90,
              automargin=False,
              tickfont=dict(family=FB, size=11, color="#555555"), ticklabelstandoff=4)
    layout["xaxis%d" % n] = ax
    layout["yaxis%d" % n] = ay

baxes(2, xd(60, 415), yd(615, 930), [0.494, 3.465], [-0.0145, 0.3995], b_xt_a, b_xt_a_txt, s1_yt, s1_yt_txt)
baxes(3, xd(480, 841.7), yd(613.3, 933.3), [0.669, 3.473], [-1.33, 36.38], b_xt_b, b_xt_b_txt, s2_yt, [str(v) for v in s2_yt])
baxes(4, xd(905, 1268.3), yd(608.3, 930), [0.407, 3.468], [-0.95, 25.06], b_xt_a, b_xt_a_txt, s3_yt, [str(v) for v in s3_yt])
baxes(5, xd(223.3, 577.3), yd(1006, 1320.7), [0.315, 3.476], [-0.00222, 0.05745], b_xt_a, b_xt_a_txt, s4_yt, s4_yt_txt)
baxes(6, xd(672.7, 1025), yd(1005, 1320), [0.417, 3.471], [-0.189, 4.639], b_xt_a, b_xt_a_txt, s5_yt, [str(v) for v in s5_yt])

def ann(text, x, y, size, color, family, xanchor="center", angle=0):
    return dict(text=text, x=x / W, y=1 - y / H, xref="paper", yref="paper", showarrow=False,
                xanchor=xanchor, yanchor="middle", textangle=angle,
                font=dict(size=size, color=color, family=family))

annotations = [
    ann("A", 32, 35, 46, "#222222", FB),
    ann("B", 32, 617, 46, "#222222", FB),
    ann("H (mT)", 571, 565, 27, GA, FA),
    ann("M/Mmáx", 105, 256, 27, GA, FA, angle=-90),
]
titles = [("JS102C", 408, 635), ("JP601B", 836, 632), ("JB701B", 1263, 627),
          ("JT206B", 562, 1032), ("CT633B", 1022, 1023)]
for t, x, y in titles:
    annotations.append(ann(t, x, y, 21, "#222222", FB, xanchor="right"))
xl = [(237, 977), (660, 980), (1087, 978), (400, 1367), (848, 1365)]
yl = [(18, 773), (435, 773), (860, 768), (180, 1167), (628, 1163)]
for x, y in xl:
    annotations.append(ann("log B ( mT )", x, y, 10.5, "#444444", FB))
for x, y in yl:
    annotations.append(ann("dM/dlog(B)", x, y, 10.5, "#444444", FB, angle=-90))
layout["annotations"] = annotations

def rect(x0, y0, x1, y1, col="#333333", w=1.2):
    return dict(type="rect", xref="paper", yref="paper", x0=x0 / W, x1=x1 / W,
                y0=1 - y1 / H, y1=1 - y0 / H, line=dict(color=col, width=w))

layout["shapes"] = [
    rect(7, 8, 1277, 590),
    rect(7, 590, 1277, 1380),
    rect(8, 8, 56, 60),
    rect(8, 592, 56, 640),
]

fig.update_layout(**layout)
fig.write_html("out.html")
